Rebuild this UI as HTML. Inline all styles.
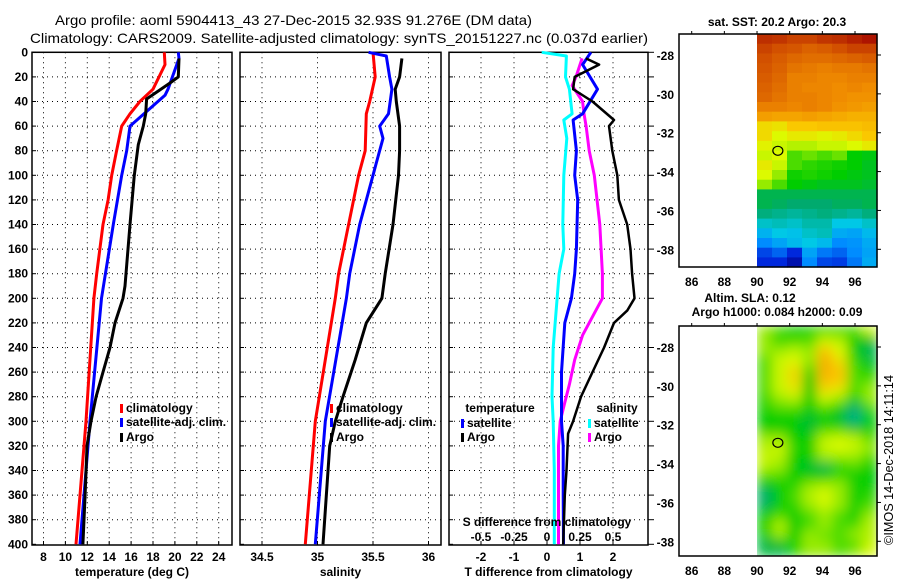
<!DOCTYPE html>
<html><head><meta charset="utf-8"><style>
html,body{margin:0;padding:0;background:#fff;}
svg{display:block;font-family:"Liberation Sans",Arial,sans-serif;}
.t{font-size:12px;font-weight:bold;fill:#000;}
</style></head><body>
<svg id="fig" width="900" height="580" viewBox="0 0 900 580" xmlns="http://www.w3.org/2000/svg">
<text x="55" y="25" font-size="14" textLength="477" lengthAdjust="spacingAndGlyphs">Argo profile: aoml 5904413_43 27-Dec-2015 32.93S 91.276E (DM data)</text>
<text x="30" y="43" font-size="14" textLength="618" lengthAdjust="spacingAndGlyphs">Climatology: CARS2009. Satellite-adjusted climatology: synTS_20151227.nc (0.037d earlier)</text>
<g id="p1"></g>
<g id="p2"></g>
<g id="p3"></g>
<g id="m1"></g>
<g id="m2"></g>
<text transform="translate(893,460) rotate(-90)" text-anchor="middle" font-size="13" textLength="170" lengthAdjust="spacingAndGlyphs">©IMOS 14-Dec-2018 14:11:14</text>
</svg>
<script>
// ---- data ----
const depthTicks = [0,20,40,60,80,100,120,140,160,180,200,220,240,260,280,300,320,340,360,380,400];
const tempTicks = [8,10,12,14,16,18,20,22,24];
const salTicks = [34.5,35,35.5,36];
const tdiffTicks = [-2,-1,0,1,2];
const sdiffTicks = [-0.5,-0.25,0,0.25,0.5];
const sdiffLabels = ["-0.5","-0.25","0","0.25","0.5"];

const depthClim = [0,10,30,40,50,60,80,100,120,140,180,200,300,400];
const tempClim = [19.03,19.1,18.0,16.8,15.9,15.14,14.68,14.23,13.9,13.43,12.86,12.6,11.88,10.97];
const depthSat = [0,5,30,35,60,80,100,140,200,300,400];
const tempSat = [20.31,20.37,19.37,19.1,15.9,15.6,15.14,14.37,13.3,12.25,11.33];
const depthArgo = [5,20,25,38,50,60,75,100,140,190,200,220,240,260,280,300,320,360,400];
const tempArgo = [20.37,20.31,19.55,17.42,17.33,17.11,16.66,16.29,15.9,15.44,15.26,14.53,14.07,13.43,12.8,12.34,11.97,11.8,11.6];

const salDepthClim = [0,20,40,50,80,100,140,180,200,300,400];
const salClim = [35.50,35.52,35.47,35.44,35.43,35.37,35.28,35.19,35.16,34.98,34.89];
const salDepthSat = [0,3,20,30,50,60,70,90,100,140,180,200,300,400];
const salSat = [35.46,35.62,35.65,35.67,35.64,35.56,35.59,35.53,35.50,35.38,35.29,35.26,35.07,34.98];
const salDepthArgo = [5,20,30,40,60,80,100,140,180,200,220,250,280,300,320,400];
const salArgo = [35.76,35.74,35.70,35.71,35.74,35.74,35.73,35.68,35.61,35.58,35.44,35.34,35.23,35.16,35.11,35.05];

const tdSatDepth = [0,10,30,50,55,80,100,120,160,180,200,220,260,300,320,360,400];
const tdSat = [1.33,1.08,1.53,1.08,0.79,0.89,0.84,0.93,0.89,0.84,0.74,0.54,0.44,0.44,0.49,0.49,0.50];
const tdArgoDepth = [5,10,20,30,40,55,60,80,100,120,140,160,180,200,210,220,240,260,280,300,310,340,360,400];
const tdArgo = [1.18,1.58,0.84,0.79,1.38,2.03,1.88,1.98,2.13,2.18,2.43,2.53,2.58,2.65,2.43,2.03,1.73,1.38,1.03,0.79,0.64,0.59,0.54,0.49];
const sdSatDepth = [0,3,20,30,50,55,70,100,140,160,180,240,280,300,340,400];
const sdSat = [-0.04,0.147,0.14,0.17,0.19,0.127,0.15,0.127,0.12,0.127,0.092,0.047,0.038,0.047,0.055,0.055];
const sdArgoDepth = [5,20,27,40,50,60,80,100,140,160,180,200,210,230,250,270,285,300,320,400];
const sdArgo = [0.266,0.22,0.19,0.27,0.28,0.296,0.32,0.358,0.40,0.41,0.42,0.42,0.37,0.27,0.21,0.17,0.134,0.10,0.087,0.087];

const latTicks = [-28,-30,-32,-34,-36,-38];
const lonTicks = [86,88,90,92,94,96];
const argoLon = 91.276, argoLat = -32.93;
const sstGrid = [
[0.93,0.92,0.9,0.9,0.92,0.93,0.95,0.97],
[0.9,0.88,0.87,0.85,0.86,0.88,0.9,0.9],
[0.88,0.86,0.84,0.83,0.83,0.84,0.85,0.86],
[0.87,0.85,0.82,0.81,0.8,0.81,0.81,0.82],
[0.86,0.84,0.8,0.8,0.79,0.79,0.8,0.8],
[0.85,0.83,0.8,0.79,0.79,0.78,0.79,0.78],
[0.84,0.82,0.8,0.8,0.79,0.78,0.77,0.77],
[0.8,0.8,0.79,0.8,0.79,0.77,0.76,0.75],
[0.75,0.74,0.74,0.75,0.74,0.73,0.72,0.72],
[0.66,0.65,0.68,0.68,0.69,0.69,0.69,0.7],
[0.66,0.62,0.64,0.64,0.63,0.64,0.66,0.68],
[0.63,0.6,0.58,0.58,0.6,0.6,0.62,0.64],
[0.6,0.62,0.5,0.52,0.5,0.52,0.45,0.44],
[0.64,0.6,0.5,0.48,0.47,0.46,0.45,0.43],
[0.62,0.55,0.46,0.47,0.46,0.45,0.44,0.43],
[0.55,0.5,0.45,0.44,0.43,0.43,0.43,0.42],
[0.4,0.4,0.4,0.4,0.4,0.4,0.4,0.4],
[0.4,0.39,0.38,0.38,0.38,0.39,0.39,0.4],
[0.37,0.36,0.35,0.36,0.37,0.36,0.35,0.37],
[0.32,0.33,0.32,0.34,0.34,0.3,0.3,0.32],
[0.27,0.3,0.29,0.32,0.33,0.26,0.25,0.28],
[0.22,0.25,0.28,0.3,0.28,0.22,0.23,0.26],
[0.15,0.18,0.12,0.25,0.2,0.18,0.22,0.25],
[0.12,0.12,0.05,0.22,0.15,0.14,0.2,0.26]];
const slaGrid = [
[0.55,0.5,0.45,0.47,0.5,0.5,0.5,0.6],
[0.55,0.48,0.5,0.5,0.6,0.58,0.45,0.42],
[0.55,0.55,0.58,0.55,0.68,0.62,0.45,0.4],
[0.5,0.6,0.62,0.55,0.72,0.65,0.48,0.42],
[0.5,0.6,0.66,0.5,0.72,0.68,0.5,0.45],
[0.5,0.6,0.66,0.45,0.7,0.68,0.5,0.5],
[0.5,0.6,0.64,0.45,0.66,0.64,0.5,0.55],
[0.48,0.55,0.58,0.45,0.6,0.55,0.45,0.55],
[0.47,0.5,0.5,0.45,0.5,0.45,0.38,0.48],
[0.45,0.45,0.45,0.42,0.45,0.42,0.36,0.45],
[0.45,0.45,0.45,0.42,0.48,0.48,0.42,0.45],
[0.55,0.55,0.45,0.45,0.58,0.6,0.58,0.5],
[0.58,0.6,0.48,0.45,0.6,0.62,0.6,0.55],
[0.6,0.58,0.45,0.45,0.55,0.55,0.55,0.5],
[0.58,0.55,0.45,0.42,0.4,0.47,0.5,0.45],
[0.5,0.5,0.45,0.45,0.45,0.5,0.45,0.45],
[0.42,0.45,0.48,0.55,0.58,0.55,0.47,0.45],
[0.38,0.45,0.5,0.58,0.62,0.55,0.45,0.48],
[0.4,0.45,0.48,0.55,0.6,0.55,0.47,0.5],
[0.45,0.5,0.45,0.5,0.55,0.5,0.45,0.55],
[0.45,0.58,0.45,0.5,0.55,0.5,0.5,0.58],
[0.45,0.55,0.45,0.55,0.52,0.5,0.55,0.58],
[0.4,0.42,0.47,0.55,0.55,0.5,0.5,0.6],
[0.42,0.4,0.47,0.55,0.55,0.5,0.55,0.62]];

// ---- helpers ----
const NS = "http://www.w3.org/2000/svg";
function mk(parent, tag, attrs, txt){
  const e = document.createElementNS(NS, tag);
  for (const k in attrs) e.setAttribute(k, attrs[k]);
  if (txt !== undefined) e.textContent = txt;
  parent.appendChild(e);
  return e;
}
const Y0 = 52.3, YS = 1.23, YB = 545;
const yD = d => Y0 + d * YS;
const xT = v => 43.5 + (v - 8) * 10.95;
const xS = v => 262 + (v - 34.5) * 111;
const xTD = v => 547 + v * 33;
const xSD = v => 547 + v * 132;

function panel(g, x0, x1, gridXs, tickXs, tickLabels, xlabel, showY, rightTicks){
  for (let i = 0; i < depthTicks.length; i++) {
    const y = yD(depthTicks[i]);
    if (i > 0 && i < depthTicks.length - 1) {
      const l = mk(g, "line", {x1:x0, x2:x1, y1:y, y2:y, stroke:"#000", "stroke-width":1, "stroke-dasharray":"1,4"});
      
      
    }
    const t = mk(g, "line", {x1:x0, x2:x0+4, y1:y, y2:y, stroke:"#000"});
    
    
    if (rightTicks) {
      const rt = mk(g, "line", {x1:x1, x2:x1+6, y1:y, y2:y, stroke:"#000"});
      
      
    }
    if (showY) {
      const lb = mk(g, "text", {x:28, y:y+4, "text-anchor":"end", class:"t"}, String(depthTicks[i]));
      
      
    }
  }
  gridXs.forEach(x => {
    const l = mk(g, "line", {x1:x, x2:x, y1:Y0, y2:YB, stroke:"#000", "stroke-width":1, "stroke-dasharray":"1,4"});
    
    
    const tk = mk(g, "line", {x1:x, x2:x, y1:YB, y2:YB-4, stroke:"#000"});
    
    
  });
  tickXs.forEach((x, i) => {
    const lb = mk(g, "text", {x:x, y:561, "text-anchor":"middle", class:"t"}, tickLabels[i]);
    
    
  });
  const r = mk(g, "rect", {x:x0, y:Y0, width:x1-x0, height:YB-Y0, fill:"none", stroke:"#000", "stroke-width":1.5});
  
  
  const xl = mk(g, "text", {x:(x0+x1)/2, y:576, "text-anchor":"middle", class:"t"}, xlabel);
  
  
}
function series(g, depths, vals, xf, color, w, name){
  const pts = depths.map((d, i) => xf(vals[i]).toFixed(1) + "," + yD(d).toFixed(1)).join(" ");
  const p = mk(g, "polyline", {points:pts, fill:"none", stroke:color, "stroke-width":w, "stroke-linejoin":"round"});
  
  
}
function legend(g, x, y, color, label, name){
  const b = mk(g, "rect", {x:x, y:y-4, width:3, height:9, fill:color});
  
  
  const t = mk(g, "text", {x:x+6, y:y+4, class:"t"}, label);
  
  
}

// panel 1
const p1 = document.getElementById("p1");
panel(p1, 32, 232, tempTicks.map(xT), tempTicks.map(xT), tempTicks.map(String), "temperature (deg C)", true, false);
series(p1, depthClim, tempClim, xT, "#ff0000", 3, "temp-climatology-line");
series(p1, depthSat, tempSat, xT, "#0000ff", 3, "temp-satellite-line");
series(p1, depthArgo, tempArgo, xT, "#000000", 3, "temp-argo-line");
legend(p1, 120, 408, "#ff0000", "climatology", "legend-climatology");
legend(p1, 120, 422, "#0000ff", "satellite-adj. clim.", "legend-satellite");
legend(p1, 120, 437, "#000000", "Argo", "legend-argo");

// panel 2
const p2 = document.getElementById("p2");
panel(p2, 240, 441, salTicks.map(xS), salTicks.map(xS), salTicks.map(String), "salinity", false, false);
series(p2, salDepthClim, salClim, xS, "#ff0000", 3, "sal-climatology-line");
series(p2, salDepthSat, salSat, xS, "#0000ff", 3, "sal-satellite-line");
series(p2, salDepthArgo, salArgo, xS, "#000000", 3, "sal-argo-line");
legend(p2, 330, 408, "#ff0000", "climatology", "legend-sal-climatology");
legend(p2, 330, 422, "#0000ff", "satellite-adj. clim.", "legend-sal-satellite");
legend(p2, 330, 437, "#000000", "Argo", "legend-sal-argo");

// panel 3
const p3 = document.getElementById("p3");
panel(p3, 449, 648, tdiffTicks.map(xTD), tdiffTicks.map(xTD), tdiffTicks.map(String), "T difference from climatology", false, true);
series(p3, sdSatDepth, sdSat, xSD, "#00ffff", 3, "sdiff-satellite-line");
series(p3, sdArgoDepth, sdArgo, xSD, "#ff00ff", 3, "sdiff-argo-line");
series(p3, tdSatDepth, tdSat, xTD, "#0000ff", 3, "tdiff-satellite-line");
series(p3, tdArgoDepth, tdArgo, xTD, "#000000", 2.5, "tdiff-argo-line");
{
  const t1 = mk(p3, "text", {x:500, y:412, "text-anchor":"middle", class:"t"}, "temperature");
  
  
  const t2 = mk(p3, "text", {x:617, y:412, "text-anchor":"middle", class:"t"}, "salinity");
  
  
  legend(p3, 461, 423, "#0000ff", "satellite", "legend-tdiff-satellite");
  legend(p3, 461, 437, "#000000", "Argo", "legend-tdiff-argo");
  legend(p3, 588, 423, "#00ffff", "satellite", "legend-sdiff-satellite");
  legend(p3, 588, 437, "#ff00ff", "Argo", "legend-sdiff-argo");
  const st = mk(p3, "text", {x:547, y:526, "text-anchor":"middle", class:"t"}, "S difference from climatology");
  
  
  sdiffTicks.forEach((v, i) => {
    const lb = mk(p3, "text", {x:xSD(v), y:541, "text-anchor":"middle", class:"t"}, sdiffLabels[i]);
    
    
  });
}

// maps
const stops = [[0,[0,0,140]],[0.12,[0,40,220]],[0.22,[0,140,255]],[0.3,[0,200,230]],[0.38,[0,170,110]],[0.45,[0,205,0]],[0.55,[150,235,0]],[0.62,[220,250,0]],[0.68,[250,200,0]],[0.78,[240,140,0]],[0.88,[210,80,0]],[1,[160,0,0]]];
function cmap(v){
  for (let i = 1; i < stops.length; i++) {
    if (v <= stops[i][0]) {
      const a = stops[i-1], b = stops[i], f = (v - a[0]) / (b[0] - a[0]);
      const c = a[1].map((q, k) => Math.round(q + (b[1][k] - q) * f));
      return "rgb(" + c.join(",") + ")";
    }
  }
  return "rgb(160,0,0)";
}
function drawMap(id, top, bottom, grid, title1, title2, blur){
  const g = document.getElementById(id);
  const L = 679, R = 877;
  const xL = lon => 691.7 + (lon - 86) * 16.33;
  const yL = lat => top + 21 + (-28 - lat) * 19.43;
  const latTop = -28 + 21 / 19.43;
  const cg = mk(g, "g", blur ? {filter:"url(#" + id + "blur)"} : {});
  
  
  if (blur) {
    const defs = mk(g, "defs", {});
    const f = mk(defs, "filter", {id:id + "blur", x:"0", y:"0", width:"1", height:"1"});
    mk(f, "feGaussianBlur", {stdDeviation:"6"});
  }
  const cols = grid[0].length, lonW = (97.35 - 90) / cols;
  grid.forEach((row, r) => {
    row.forEach((v, c) => {
      const y1 = yL(latTop - r * 0.5), y2 = Math.min(yL(latTop - (r + 1) * 0.5), bottom);
      const x1 = xL(90 + c * lonW), x2 = xL(90 + (c + 1) * lonW);
      const cell = mk(cg, "rect", {x:x1.toFixed(1), y:y1.toFixed(1), width:(x2 - x1 + 0.6).toFixed(1), height:(y2 - y1 + 0.6).toFixed(1), fill:cmap(v)});
      
      
    });
  });
  if (blur) {
    const cp = mk(g, "rect", {x:xL(90) - 20, y:top - 20, width:20, height:bottom - top + 40, fill:"#fff"});
    
    
    const cp2 = mk(g, "rect", {x:L, y:bottom, width:R - L, height:12, fill:"#fff"});
    
    
  }
  const fr = mk(g, "rect", {x:L, y:top, width:R - L, height:bottom - top, fill:"none", stroke:"#000", "stroke-width":1.5});
  
  
  latTicks.forEach(lat => {
    const y = yL(lat);
    const t = mk(g, "line", {x1:R, x2:R + 4, y1:y, y2:y, stroke:"#000"});
    
    
    const lb = mk(g, "text", {x:674, y:y + 5, "text-anchor":"end", class:"t", "font-size":"13"}, String(lat));
    
    
  });
  lonTicks.forEach(lon => {
    const x = xL(lon);
    const t = mk(g, "line", {x1:x, x2:x, y1:top, y2:top - 3, stroke:"#000"});
    
    
    const lb = mk(g, "text", {x:x, y:bottom + 19, "text-anchor":"middle", class:"t", "font-size":"13"}, String(lon));
    
    
  });
  const c = mk(g, "ellipse", {cx:xL(argoLon), cy:yL(argoLat), rx:5, ry:4.5, fill:"none", stroke:"#000", "stroke-width":1.2});
  
  
  if (title2) {
    const a = mk(g, "text", {x:750, y:302, "text-anchor":"middle", class:"t", "font-size":"13"}, title1);
    
    
    const b = mk(g, "text", {x:777, y:316, "text-anchor":"middle", class:"t", "font-size":"13"}, title2);
    
    
  } else {
    const a = mk(g, "text", {x:777, y:26, "text-anchor":"middle", class:"t", "font-size":"13"}, title1);
    
    
  }
}
drawMap("m1", 34, 267, sstGrid, "sat. SST: 20.2 Argo: 20.3", null, false);
drawMap("m2", 326, 556, slaGrid, "Altim. SLA: 0.12", "Argo h1000: 0.084 h2000: 0.09", true);
</script>
</body></html>
